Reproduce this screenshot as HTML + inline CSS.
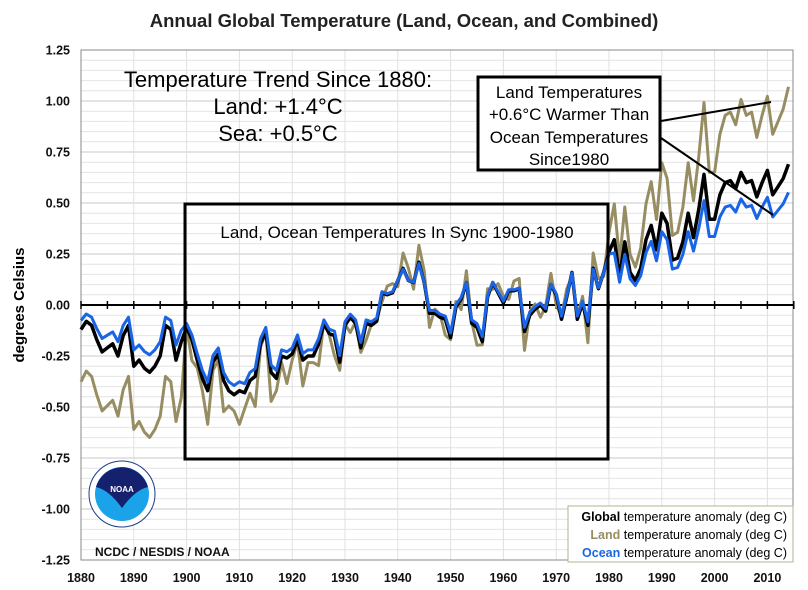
<!DOCTYPE html>
<html><head><meta charset="utf-8"><style>
body{margin:0;background:#fff;width:808px;height:590px;overflow:hidden}
svg{display:block}
text{font-family:"Liberation Sans",sans-serif}
</style></head><body>
<svg id="s" width="808" height="590" xmlns="http://www.w3.org/2000/svg"></svg>
<script>
const g=[-0.12,-0.08,-0.10,-0.17,-0.23,-0.21,-0.19,-0.25,-0.15,-0.10,-0.30,-0.27,-0.31,-0.33,-0.30,-0.25,-0.10,-0.12,-0.27,-0.18,
-0.11,-0.17,-0.27,-0.36,-0.42,-0.28,-0.24,-0.37,-0.42,-0.44,-0.42,-0.43,-0.37,-0.35,-0.19,-0.13,-0.33,-0.36,-0.25,-0.26,
-0.24,-0.17,-0.27,-0.25,-0.25,-0.19,-0.09,-0.14,-0.15,-0.28,-0.10,-0.06,-0.09,-0.21,-0.09,-0.10,-0.08,0.06,0.05,0.06,
0.12,0.18,0.12,0.11,0.21,0.11,-0.04,-0.04,-0.06,-0.07,-0.16,-0.01,0.03,0.11,-0.09,-0.11,-0.18,0.04,0.11,0.06,
0.01,0.07,0.07,0.08,-0.13,-0.05,-0.02,0.00,-0.03,0.10,0.05,-0.07,0.04,0.16,-0.07,0.01,-0.10,0.18,0.08,0.16,
0.26,0.32,0.14,0.31,0.16,0.12,0.18,0.32,0.39,0.27,0.45,0.40,0.22,0.23,0.31,0.45,0.33,0.47,0.64,0.42,
0.42,0.54,0.60,0.61,0.57,0.65,0.60,0.61,0.53,0.60,0.66,0.54,0.58,0.62,0.69];
const land=[],oc=[];
g.forEach((v,i)=>{const y=1880+i;
 if(y<1900){land.push(v*1.3-0.22);oc.push(v*0.8+0.02);}
 else if(y<1981){land.push(v*1.25+(i%3==0?-0.06:0.03));oc.push(v*0.92+0.01);}
 else{land.push(v*1.55);oc.push(v*0.8);}
});
const X=y=>81+(y-1880)*5.28, Y=v=>305-v*204;
let h='';
for(let k=-25;k<=25;k++){const y=Y(k*0.05);h+=`<line x1="81" x2="793" y1="${y}" y2="${y}" stroke="${k%5==0?'#c8c8c8':'#e4e4e4'}" stroke-width="1"/>`;}
for(let yr=1880;yr<=2010;yr+=10){const x=X(yr);h+=`<line x1="${x}" x2="${x}" y1="50" y2="560" stroke="#e0e0e0"/>`;
 h+=`<text x="${x}" y="582" font-size="12.5" font-weight="bold" text-anchor="middle" fill="#111">${yr}</text>`;}
h+=`<rect x="81" y="50" width="712" height="510" fill="none" stroke="#888"/>`;
for(let k=-5;k<=5;k++){const v=k*0.25;h+=`<text x="70" y="${Y(v)+4.5}" font-size="12.5" font-weight="bold" text-anchor="end" fill="#111">${v.toFixed(2)}</text>`;}
h+=`<line x1="81" x2="793" y1="305" y2="305" stroke="#000" stroke-width="2"/>`;
for(let yr=1880;yr<=2015;yr+=5){const x=X(yr);h+=`<line x1="${x}" x2="${x}" y1="301" y2="309" stroke="#000" stroke-width="1.5"/>`;}
const pl=(a,c,w)=>`<polyline fill="none" stroke="${c}" stroke-width="${w}" stroke-linejoin="round" points="${a.map((v,i)=>X(1880+i).toFixed(1)+','+Y(v).toFixed(1)).join(' ')}"/>`;
h+=pl(land,'#978d62',3)+pl(g,'#000',3.5)+pl(oc,'#1a64e6',3);
h+=`<rect x="185" y="204" width="423" height="255" fill="none" stroke="#000" stroke-width="3"/>`;
h+=`<text x="397" y="238" font-size="17" text-anchor="middle">Land, Ocean Temperatures In Sync 1900-1980</text>`;
h+=`<text x="278" y="87" font-size="22" text-anchor="middle">Temperature Trend Since 1880:</text>`;
h+=`<text x="278" y="114" font-size="22" text-anchor="middle">Land: +1.4°C</text>`;
h+=`<text x="278" y="141" font-size="22" text-anchor="middle">Sea: +0.5°C</text>`;
h+=`<rect x="478" y="77" width="182" height="93" fill="#fff" stroke="#000" stroke-width="3"/>`;
[["Land Temperatures",98],["+0.6°C Warmer Than",120],["Ocean Temperatures",143],["Since1980",165]].forEach(t=>h+=`<text x="569" y="${t[1]}" font-size="17" text-anchor="middle">${t[0]}</text>`);
h+=`<line x1="661" y1="121" x2="771" y2="102" stroke="#000" stroke-width="2"/><line x1="661" y1="138" x2="773" y2="215" stroke="#000" stroke-width="2"/>`;
h+=`<text x="404" y="27" font-size="18.5" font-weight="bold" text-anchor="middle" fill="#222">Annual Global Temperature (Land, Ocean, and Combined)</text>`;
h+=`<text transform="translate(24,305) rotate(-90)" font-size="15" font-weight="bold" text-anchor="middle">degrees Celsius</text>`;
h+=`<rect x="568" y="506" width="225" height="56" fill="#fff" stroke="#b8b090"/>`;
[["Global","#000",523],["Land","#978d62",541],["Ocean","#1a64e6",559]].forEach(t=>h+=`<text x="787" y="${t[2]-2}" font-size="12.5" text-anchor="end"><tspan fill="${t[1]}" font-weight="bold">${t[0]}</tspan> temperature anomaly (deg C)</text>`);
h+=`<circle cx="122" cy="494" r="33" fill="#fff" stroke="#1a3c8c" stroke-width="1"/><circle cx="122" cy="494" r="27" fill="#1aa3e8"/>
<path d="M96,487 A27,27 0 0 1 148,487 Q135,490 122,508 Q109,490 96,487Z" fill="#15206e"/>
<text x="122" y="492" font-size="8" font-weight="bold" fill="#fff" text-anchor="middle">NOAA</text>`;
h+=`<text x="95" y="556" font-size="12" font-weight="bold" fill="#111">NCDC / NESDIS / NOAA</text>`;
document.getElementById('s').innerHTML=h;
</script>
</body></html>
